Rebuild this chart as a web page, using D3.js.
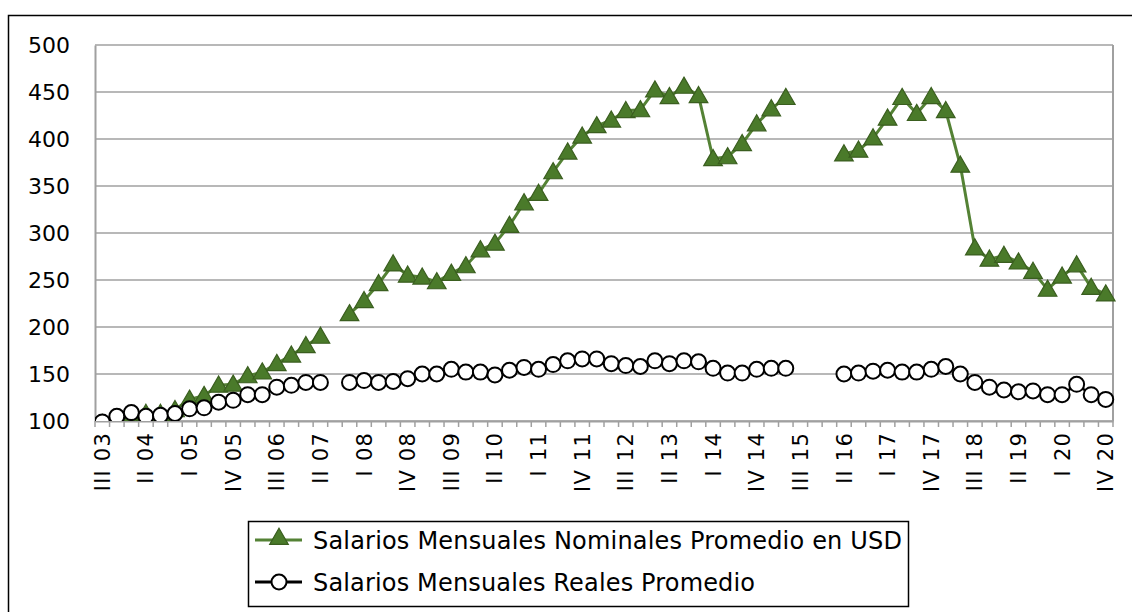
<!DOCTYPE html>
<html>
<head>
  <title>Salarios Mensuales</title>
  <script src="https://d3js.org/d3.v7.min.js"></script>
  <style>
    body { margin: 0; background: #fff; }
    text { font-family: "DejaVu Sans", sans-serif; }
  </style>
</head>
<body>

<div id="chart"></div>

<script>
// quarters III 03 .. IV 20
const categories = [
  "III 03", "IV 03",
  "I 04", "II 04", "III 04", "IV 04",
  "I 05", "II 05", "III 05", "IV 05",
  "I 06", "II 06", "III 06", "IV 06",
  "I 07", "II 07", "III 07", "IV 07",
  "I 08", "II 08", "III 08", "IV 08",
  "I 09", "II 09", "III 09", "IV 09",
  "I 10", "II 10", "III 10", "IV 10",
  "I 11", "II 11", "III 11", "IV 11",
  "I 12", "II 12", "III 12", "IV 12",
  "I 13", "II 13", "III 13", "IV 13",
  "I 14", "II 14", "III 14", "IV 14",
  "I 15", "II 15", "III 15", "IV 15",
  "I 16", "II 16", "III 16", "IV 16",
  "I 17", "II 17", "III 17", "IV 17",
  "I 18", "II 18", "III 18", "IV 18",
  "I 19", "II 19", "III 19", "IV 19",
  "I 20", "II 20", "III 20", "IV 20"
];

const tickLabels = [
  "III 03", "II 04", "I 05", "IV 05", "III 06", "II 07", "I 08", "IV 08",
  "III 09", "II 10", "I 11", "IV 11", "III 12", "II 13", "I 14", "IV 14",
  "III 15", "II 16", "I 17", "IV 17", "III 18", "II 19", "I 20", "IV 20"
];

const yTicks = [100, 150, 200, 250, 300, 350, 400, 450, 500];

// null = no data
const nominal = [
  97, 101, 104, 108, 108, 112, 123, 127, 138, 139,
  148, 152, 161, 170, 180, 190, null, 214, 228, 246,
  267, 255, 253, 248, 257, 265, 282, 289, 308, 332,
  342, 365, 386, 403, 414, 420, 430, 431, 452, 445,
  456, 446, 379, 381, 395, 416, 432, 444, null, null,
  null, 384, 388, 401, 422, 444, 427, 445, 430, 372,
  284, 272, 276, 269, 259, 240, 254, 266, 242, 235
];

const real = [
  99, 105, 109, 105, 106, 108, 113, 114, 120, 122,
  128, 128, 136, 138, 141, 141, null, 141, 143, 141,
  142, 145, 150, 150, 155, 152, 152, 149, 154, 157,
  155, 160, 164, 166, 166, 161, 159, 158, 164, 161,
  164, 163, 156, 151, 151, 155, 156, 156, null, null,
  null, 150, 151, 153, 154, 152, 152, 155, 158, 150,
  141, 136, 133, 131, 132, 128, 128, 139, 128, 123
];

const seriesNames = [
  "Salarios Mensuales Nominales Promedio en USD",
  "Salarios Mensuales Reales Promedio"
];

const W = 1132, H = 612;
const margin = { top: 45, right: 19, bottom: 191, left: 95 };
const width = W - margin.left - margin.right;
const height = H - margin.top - margin.bottom;

const green = "#548235", greenFill = "#4a7a2a", greenDark = "#3a5e1f";
const grid = "#a0a0a0";

const svg = d3.select("#chart")
  .append("svg")
  .attr("width", W)
  .attr("height", H);

// outer chart border
svg.append("rect")
  .attr("x", 8.5).attr("y", 15.5)
  .attr("width", W + 20).attr("height", H + 20)
  .attr("fill", "none")
  .attr("stroke", "#000")
  .attr("stroke-width", 1.5);

const g = svg.append("g")
  .attr("transform", `translate(${margin.left},${margin.top})`);

const x = d3.scaleBand()
  .domain(categories)
  .range([0, width])
  .padding(0);

const y = d3.scaleLinear()
  .domain([100, 500])
  .range([height, 0]);

const cx = c => x(c) + x.bandwidth() / 2;

// gridlines
g.append("g")
  .selectAll("line")
  .data(yTicks)
  .join("line")
  .attr("x1", 0).attr("x2", width)
  .attr("y1", d => y(d)).attr("y2", d => y(d))
  .attr("stroke", grid)
  .attr("stroke-width", 1.5);

// plot area right border
g.append("line")
  .attr("x1", width).attr("x2", width)
  .attr("y1", 0).attr("y2", height)
  .attr("stroke", grid)
  .attr("stroke-width", 2);

// y axis
const yAxis = g.append("g")
  .call(d3.axisLeft(y).tickValues(yTicks).tickSize(0).tickPadding(25));
yAxis.select(".domain").attr("stroke", grid).attr("stroke-width", 2);
yAxis.selectAll("text")
  .attr("font-size", 22)
  .attr("fill", "#000")
  .style("font-family", "DejaVu Sans");

// x axis
const xAxis = g.append("g")
  .attr("transform", `translate(0,${height})`)
  .call(d3.axisBottom(x).tickValues(tickLabels).tickSize(0));
xAxis.select(".domain").attr("stroke", grid).attr("stroke-width", 2);
xAxis.selectAll("text")
  .attr("transform", "rotate(-90)")
  .attr("text-anchor", "end")
  .attr("x", -11)
  .attr("y", 0)
  .attr("dy", "0.36em")
  .attr("font-size", 21)
  .attr("letter-spacing", "1.2px")
  .attr("fill", "#000")
  .style("font-family", "DejaVu Sans");

// tick marks between categories
g.append("g")
  .selectAll("line")
  .data(categories.concat(["end"]))
  .join("line")
  .attr("x1", d => d === "end" ? width : x(d))
  .attr("x2", d => d === "end" ? width : x(d))
  .attr("y1", height)
  .attr("y2", height + 6)
  .attr("stroke", grid)
  .attr("stroke-width", 1.5);

svg.append("clipPath").attr("id", "plot-clip")
  .append("rect")
  .attr("x", 0).attr("y", -10)
  .attr("width", width + 10).attr("height", height + 10);

const tri = d3.symbol().type(d3.symbolTriangle).size(150);

const lineGen = d3.line()
  .defined(d => d.v != null)
  .x(d => cx(d.c))
  .y(d => y(d.v));

const nomData = categories.map((c, i) => ({ c, v: nominal[i] }));
const realData = categories.map((c, i) => ({ c, v: real[i] }));

const plot = g.append("g").attr("clip-path", "url(#plot-clip)");

// nominal series
plot.append("path")
  .datum(nomData)
  .attr("fill", "none")
  .attr("stroke", green)
  .attr("stroke-width", 3)
  .attr("d", lineGen);

plot.append("g")
  .selectAll("path")
  .data(nomData.filter(d => d.v != null))
  .join("path")
  .attr("d", tri)
  .attr("transform", d => `translate(${cx(d.c)},${y(d.v) + 1.5})`)
  .attr("fill", greenFill)
  .attr("stroke", greenDark)
  .attr("stroke-width", 1.2);

// real series
plot.append("path")
  .datum(realData)
  .attr("fill", "none")
  .attr("stroke", "#000")
  .attr("stroke-width", 2.5)
  .attr("d", lineGen);

plot.append("g")
  .selectAll("circle")
  .data(realData.filter(d => d.v != null))
  .join("circle")
  .attr("cx", d => cx(d.c))
  .attr("cy", d => y(d.v))
  .attr("r", 7.5)
  .attr("fill", "#fff")
  .attr("stroke", "#000")
  .attr("stroke-width", 2);

// legend
const legend = svg.append("g");
legend.append("rect")
  .attr("x", 248.5).attr("y", 521.5)
  .attr("width", 660).attr("height", 85)
  .attr("fill", "#fff")
  .attr("stroke", "#000")
  .attr("stroke-width", 1.5);

const rows = [
  { name: seriesNames[0], y: 540, kind: "tri", len: 589 },
  { name: seriesNames[1], y: 582, kind: "circle", len: 442 }
];

rows.forEach(r => {
  legend.append("line")
    .attr("x1", 255).attr("x2", 302)
    .attr("y1", r.y).attr("y2", r.y)
    .attr("stroke", r.kind === "tri" ? green : "#000")
    .attr("stroke-width", 3);
  if (r.kind === "tri") {
    legend.append("path")
      .attr("d", tri)
      .attr("transform", `translate(279,${r.y - 1})`)
      .attr("fill", greenFill)
      .attr("stroke", greenDark)
      .attr("stroke-width", 1.2);
  } else {
    legend.append("circle")
      .attr("cx", 279).attr("cy", r.y)
      .attr("r", 7.5)
      .attr("fill", "#fff")
      .attr("stroke", "#000")
      .attr("stroke-width", 2);
  }
  legend.append("text")
    .attr("x", 313).attr("y", r.y)
    .attr("dy", "0.36em")
    .attr("font-size", 24)
    .attr("textLength", r.len)
    .attr("lengthAdjust", "spacing")
    .attr("fill", "#000")
    .text(r.name);
});
</script>

</body>
</html>
